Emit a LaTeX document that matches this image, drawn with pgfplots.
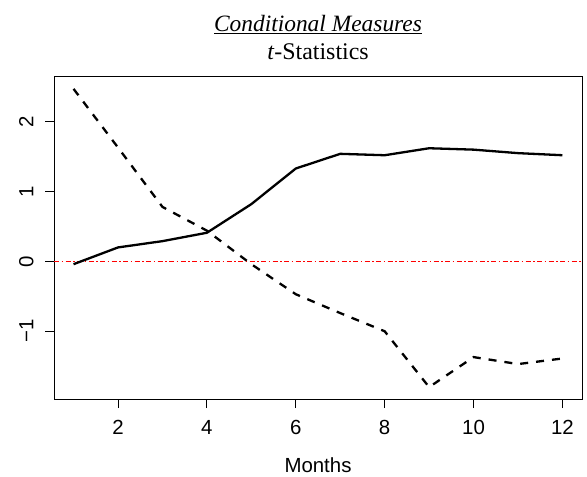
\documentclass[border=0pt]{standalone}
\usepackage{pgfplots}
\pgfplotsset{compat=1.18}
\usepackage{fontspec}
\setmainfont{Liberation Serif}
\setsansfont{Liberation Sans}
\begin{document}
\begin{tikzpicture}
\begin{axis}[
  scale only axis, width=528bp, height=322bp,
  xmin=0.56, xmax=12.44, ymin=-1.97, ymax=2.64,
  axis line style={line width=1bp, black},
  xtick={2,4,6,8,10,12}, xticklabels={2,4,6,8,10,12},
  ytick={-1,0,1,2}, yticklabels={−1,0,1,2},
  tick align=outside, major tick length=9bp,
  tick style={line width=1bp, black},
  xtick pos=left, ytick pos=left,
  ticklabel style={font=\sffamily\fontsize{20.5}{20.5}\selectfont, text=black},
  xticklabel shift=9bp, yticklabel shift=8bp,
  xticklabel style={anchor=north},
  yticklabel style={rotate=90, anchor=south},
  clip=false,
]
\addplot[draw=red, line width=1.1bp, dash pattern=on 5bp off 2.5bp on 1.5bp off 2.5bp] table {
x y
0.56 0
12.44 0
};
\addplot[black, line width=2.3bp, line join=round] coordinates {
(1,-0.04)(2,0.20)(3,0.29)(4,0.41)(5,0.82)(6,1.33)(7,1.54)(8,1.52)(9,1.62)(10,1.60)(11,1.55)(12,1.52)};
\addplot[black, line width=2.3bp, dash pattern=on 8bp off 8bp] coordinates {
(1,2.47)(2,1.63)(3,0.78)(4,0.44)(5,-0.04)(6,-0.47)(7,-0.74)(8,-1.00)(9,-1.80)(10,-1.37)(11,-1.47)(12,-1.39)};
\end{axis}
\node[anchor=base, font=\sffamily\fontsize{20.5}{20.5}\selectfont] at ([yshift=-73bp]current axis.south) {Months};
\node[anchor=base, font=\fontsize{24}{24}\selectfont] at ([yshift=17bp]current axis.north) {\textit{t}-Statistics};
\node[anchor=base, font=\fontsize{23.5}{24}\selectfont] at ([yshift=45bp]current axis.north) {\underline{\textit{Conditional Measures}}};
\pgfresetboundingbox
\useasboundingbox ([xshift=-54bp,yshift=-78bp]current axis.south west) rectangle ([xshift=5bp,yshift=77bp]current axis.north east);
\end{tikzpicture}
\end{document}
